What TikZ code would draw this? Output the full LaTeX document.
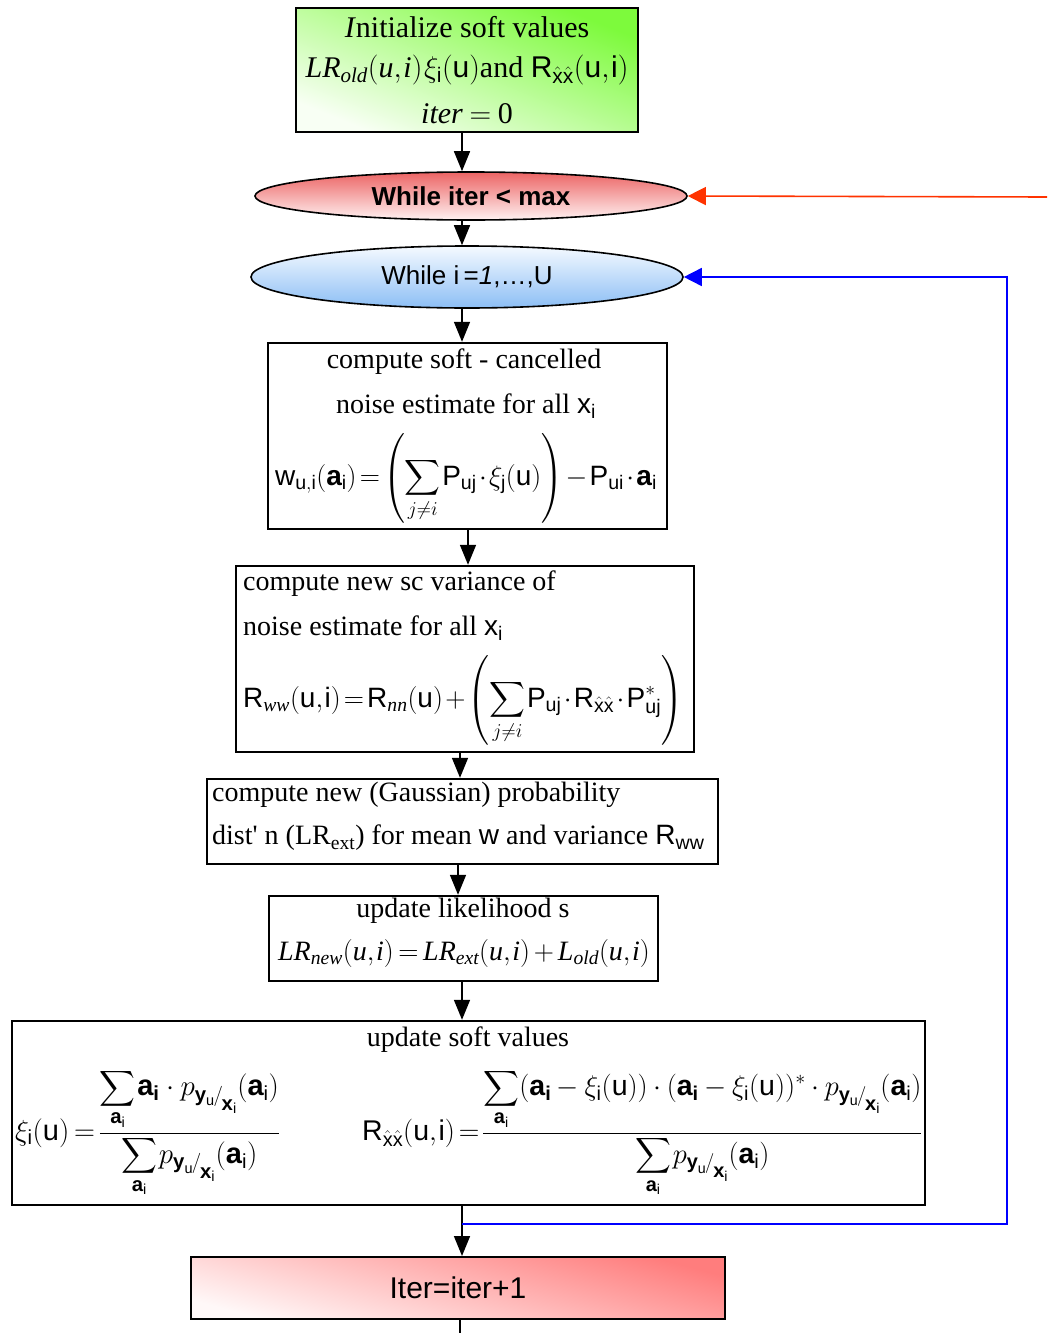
\RequirePackage{fix-cm}
\documentclass[tikz,border=0pt]{standalone}
\usepackage{amsmath}
\usepackage{fontspec}
\setmainfont{Liberation Serif}
\setsansfont{Liberation Sans}
\usetikzlibrary{arrows.meta,shapes.geometric}
\newcommand\sv[1]{\mathsf{#1}}
\newcommand\bv[1]{\text{\sffamily\bfseries #1}}
\newcommand\xh{\hat{\mathsf{x}}}
\newcommand\pyx{p_{\bv{y}_{\sv u}\!/\!\raisebox{-0.7ex}{$\scriptstyle\bv{x}_{\sv i}$}}}
\newcommand\widemath{\medmuskip=4mu\relax\thickmuskip=3mu\relax}
\newcommand\midmath{\medmuskip=3.5mu\relax\thickmuskip=2.5mu\relax}
\definecolor{fbred}{RGB}{255,51,0}
\definecolor{fbblue}{RGB}{0,0,255}
\thickmuskip=2mu
\medmuskip=1.5mu
\thinmuskip=1mu
\nulldelimiterspace=0pt
\begin{document}
\begin{tikzpicture}[x=1pt,y=-1pt,
  box/.style={draw=black, line width=2.4pt, rectangle, inner sep=0pt},
  tx/.style={inner sep=0pt, font=\fontsize{28}{34}\selectfont},
  wide/.style={font=\fontsize{29}{34}\selectfont},
  arr/.style={line width=1.6pt, -{Triangle[length=20pt,width=16pt]}},
  ell/.style={draw=black, line width=1.6pt, ellipse, inner sep=0pt, font=\fontsize{26}{30}\selectfont\sffamily}
]
\useasboundingbox (0,0) rectangle (1047,1333);

% boxes
\node[box, minimum width=342pt, minimum height=124pt, shading=axis, top color={rgb,255:red,125;green,250;blue,60}, bottom color={rgb,255:red,248;green,255;blue,244}, shading angle=-22] (b1) at (467,70) {};
\node[ell, minimum width=432pt, minimum height=48pt, top color={rgb,255:red,236;green,100;blue,100}, bottom color={rgb,255:red,255;green,242;blue,242}] (e1) at (471,196) {\bfseries While iter < max};
\node[ell, minimum width=432pt, minimum height=62pt, top color={rgb,255:red,245;green,250;blue,255}, bottom color={rgb,255:red,140;green,190;blue,245}] (e2) at (467,277) {While i\,=\textit{1},\ldots,U};
\node[box, minimum width=399pt, minimum height=186pt] (b3) at (467.5,436) {};
\node[box, minimum width=458pt, minimum height=186pt] (b4) at (465,659) {};
\node[box, minimum width=511pt, minimum height=85pt] (b5) at (462.5,821.5) {};
\node[box, minimum width=389pt, minimum height=85pt] (b6) at (463.5,938.5) {};
\node[box, minimum width=913pt, minimum height=184pt] (b7) at (468.5,1113) {};
\node[box, line width=2pt, minimum width=534pt, minimum height=62pt, shading=axis, top color={rgb,255:red,255;green,125;blue,125}, bottom color={rgb,255:red,255;green,248;blue,248}, shading angle=-15, font=\fontsize{30}{34}\selectfont\sffamily] (b8) at (458,1288) {Iter=iter+1};

% box 1 text
\node[tx, font=\fontsize{30}{36}\selectfont] (t1a) at (467,27) {\textit{I}nitialize soft values};
\node[tx, font=\fontsize{30}{36}\selectfont] (t1b) at (467,70) {$\mathit{LR}_{\mathit{old}}(\mathit{u},\mathit{i})\,\xi_{\sv i}(\sv u)$and $\sv R_{\xh\xh}(\sv u,\sv i)$};
\node[tx, font=\fontsize{30}{36}\selectfont] (t1c) at (467,114) {$\mathit{iter}\;=\;\mathrm{0}$};

% box 3 text
\node[tx] (t3a) at (464,362) {compute soft - cancelled};
\node[tx] (t3b) at (466,406) {noise estimate for all \textsf{x}$_{\sv i}$};
\node[tx] (t3c) at (466,478) {$\displaystyle \sv w_{\sv{u,i}}(\bv{a}_{\sv i})=\left(\sum_{j\neq i}\sv P_{\sv{uj}}\cdot\xi_{\sv j}(\sv u)\right)-\sv P_{\sv{ui}}\cdot\bv{a}_{\sv i}$};

% box 4 text
\node[tx, anchor=west] (t4a) at (243,584) {compute new sc variance of};
\node[tx, anchor=west] (t4b) at (243,628) {noise estimate for all \textsf{x}$_{\sv i}$};
\node[tx, anchor=west] (t4c) at (243,700) {$\displaystyle \sv R_{\mathit{ww}}(\sv u,\sv i)=\sv R_{\mathit{nn}}(\sv u)+\left(\sum_{j\neq i}\sv P_{\sv{uj}}\cdot\sv R_{\xh\xh}\cdot\sv P^{*}_{\sv{uj}}\right)$};

% box 5 text
\node[tx, anchor=west] (t5a) at (212,795) {compute new (Gaussian) probability};
\node[tx, anchor=west] (t5b) at (212,838) {dist\textquotesingle\ n (LR$_{\text{ext}}$) for mean \textsf{w} and variance \textsf{R}$_{\sv{ww}}$};

% box 6 text
\node[tx] (t6a) at (463,911) {update likelihood s};
\node[tx] (t6b) at (464,953) {$\mathit{LR}_{\mathit{new}}(\mathit u,\mathit i)\,=\,\mathit{LR}_{\mathit{ext}}(\mathit u,\mathit i)\,+\,\mathit L_{\mathit{old}}(\mathit u,\mathit i)$};

% box 7 text
\node[tx] (t7a) at (468,1040) {update soft values};
\node[tx, wide, anchor=west] (t7b) at (15,1133) {$\widemath\displaystyle \xi_{\sv i}(\sv u)=\frac{\displaystyle\sum_{\bv{a}_{\sv i}}\bv{a}_{\bv i}\cdot\pyx(\bv{a}_{\sv i})}{\displaystyle\sum_{\bv{a}_{\sv i}}\pyx(\bv{a}_{\sv i})}$};
\node[tx, font=\fontsize{28.5}{34}\selectfont, anchor=west] (t7c) at (362,1133) {$\midmath\displaystyle \sv R_{\xh\xh}(\sv u,\sv i)=\frac{\displaystyle\sum_{\bv{a}_{\sv i}}(\bv{a}_{\bv i}-\xi_{\sv i}(\sv u))\cdot(\bv{a}_{\bv i}-\xi_{\sv i}(\sv u))^{*}\cdot\pyx(\bv{a}_{\sv i})}{\displaystyle\sum_{\bv{a}_{\sv i}}\pyx(\bv{a}_{\sv i})}$};

% connectors
\draw[arr] ([xshift=-5pt]b1.south) -- ([xshift=-5pt]b1.south |- e1.north);
\draw[arr] ([xshift=-9pt]e1.south) -- ([xshift=-9pt]e1.south |- e2.north);
\draw[arr] ([xshift=-5pt]e2.south) -- ([xshift=-5pt]e2.south |- b3.north);
\draw[arr] ([xshift=0.5pt]b3.south) -- ([xshift=0.5pt]b3.south |- b4.north);
\draw[arr] ([xshift=-5pt]b4.south) -- ([xshift=-5pt]b4.south |- b5.north);
\draw[arr] ([xshift=-4.5pt]b5.south) -- ([xshift=-4.5pt]b5.south |- b6.north);
\draw[arr] ([xshift=-1.5pt]b6.south) -- ([xshift=-1.5pt]b6.south |- b7.north);
\draw[arr] ([xshift=-6.5pt]b7.south) -- ([xshift=-6.5pt]b7.south |- b8.north);
\coordinate (bend) at (460,1333);
\draw[line width=1.6pt] ([xshift=2pt]b8.south) -- (bend);

% feedback lines
\coordinate (rin) at (1047,197);
\draw[fbred, line width=1.6pt, -{Triangle[length=18pt,width=18pt]}] (rin) -- (e1.east);
\coordinate (bj) at (462,1224);
\coordinate (bc) at (1007,1224);
\draw[fbblue, line width=1.6pt, -{Triangle[length=18pt,width=18pt]}] (bj) -- (bc) |- (e2.east);
\end{tikzpicture}
\end{document}
